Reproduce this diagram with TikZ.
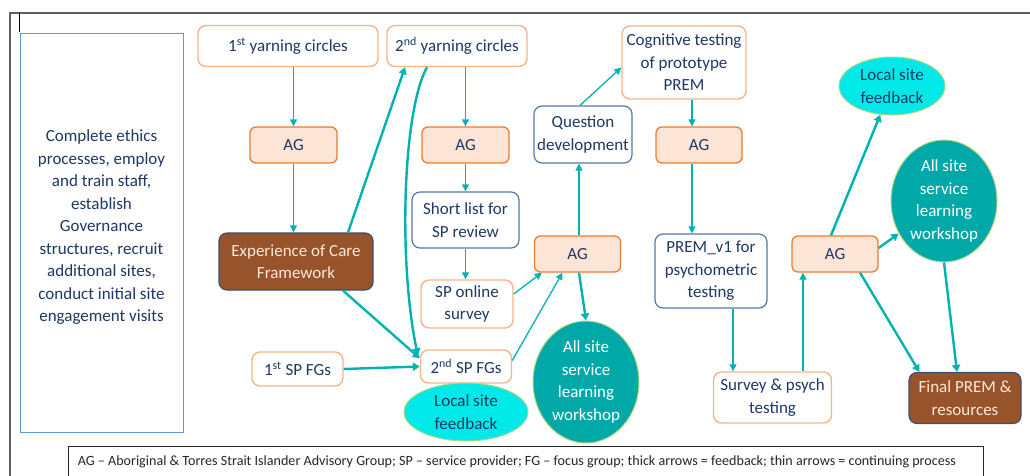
\documentclass[tikz,border=0pt]{standalone}
\usepackage{fontspec}
\setmainfont{Carlito}
\usepackage{xcolor}
\usetikzlibrary{arrows.meta, shapes.geometric, positioning}
\definecolor{navytext}{RGB}{31,56,100}
\definecolor{framegray}{RGB}{95,95,95}
\definecolor{ethicsblue}{RGB}{91,155,213}
\definecolor{orangeline}{RGB}{248,180,136}
\definecolor{agline}{RGB}{237,125,49}
\definecolor{agfill}{RGB}{252,228,214}
\definecolor{slateline}{RGB}{84,120,170}
\definecolor{brownfill}{RGB}{151,84,44}
\definecolor{brownline}{RGB}{60,78,105}
\definecolor{browntext}{RGB}{252,232,216}
\definecolor{cyanfill}{RGB}{0,233,233}
\definecolor{tealfill}{RGB}{0,168,168}
\definecolor{ovalline}{RGB}{175,218,130}
\definecolor{arrowteal}{RGB}{0,178,178}

\begin{document}
\begin{tikzpicture}[
    x=1pt, y=-1pt,
    every node/.style={font=\fontsize{17}{22.5}\selectfont, text=navytext, align=center, inner sep=0pt},
    ethicsbox/.style={rectangle, draw=ethicsblue, line width=1pt, fill=white},
    stagebox/.style={rectangle, draw=orangeline, line width=1.4pt, fill=white, rounded corners=8pt},
    agbox/.style={rectangle, draw=agline, line width=1.3pt, fill=agfill, rounded corners=6pt},
    slatebox/.style={rectangle, draw=slateline, line width=1.2pt, fill=white, rounded corners=8pt},
    brownbox/.style={rectangle, draw=brownline, line width=1.2pt, fill=brownfill, text=browntext, rounded corners=8pt},
    localoval/.style={ellipse, draw=ovalline, line width=1pt, fill=cyanfill},
    workoval/.style={ellipse, draw=ovalline, line width=1pt, fill=tealfill, text=white},
    thinarrow/.style={-{Triangle[width=7pt,length=7pt]}, draw=arrowteal, line width=1.3pt},
    thickarrow/.style={-{Triangle[width=8pt,length=7pt]}, draw=arrowteal, line width=2.4pt}
]
\useasboundingbox (0,0) rectangle (1030,475);
\clip (0,0) rectangle (1030,475);

% page frame
\draw[framegray, line width=1.6pt] (10,480) -- (10,13) -- (1035,13);
\draw[black, line width=0.8pt] (19,13) -- (19,32);

% set-up box
\node[ethicsbox, minimum width=163, minimum height=399] (ethics) at (101.5,232.5) {};
\node[yshift=5] (ethicstext) at (ethics.center) {Complete ethics\\processes, employ\\and train staff,\\establish\\Governance\\structures, recruit\\additional sites,\\conduct initial site\\engagement visits};

% yarning circles
\node[stagebox, minimum width=180, minimum height=41] (yarn1) at (288,46) {1\textsuperscript{st} yarning circles};
\node[stagebox, minimum width=140, minimum height=41] (yarn2) at (457,46) {2\textsuperscript{nd} yarning circles};

% advisory group meetings
\node[agbox, minimum width=87, minimum height=36] (ag1) at (293.5,145) {AG};
\node[agbox, minimum width=87, minimum height=36] (ag2) at (465.5,145) {AG};
\node[agbox, minimum width=86, minimum height=36] (ag3) at (577.5,254) {AG};
\node[agbox, minimum width=86, minimum height=36] (ag4) at (699,145) {AG};
\node[agbox, minimum width=86, minimum height=36] (ag5) at (835,254) {AG};

% framework and service provider steps
\node[brownbox, minimum width=154, minimum height=57] (exper) at (296,261.5) {Experience of Care\\Framework};
\node[slatebox, minimum width=107, minimum height=56] (shortlist) at (465.5,220) {Short list for\\SP review};
\node[stagebox, minimum width=92, minimum height=48] (online) at (467,304) {SP online\\survey};
\node[stagebox, minimum width=91, minimum height=34] (fg1) at (297.5,369) {1\textsuperscript{st} SP FGs};
\node[stagebox, minimum width=91, minimum height=33] (fg2) at (466,366.5) {2\textsuperscript{nd} SP FGs};
\node[localoval, minimum width=124, minimum height=58] (localA) at (466,412) {Local site\\feedback};

% PREM development
\node[slatebox, minimum width=98, minimum height=57] (question) at (583,134.5) {Question\\development};
\node[stagebox, minimum width=124, minimum height=73] (cognitive) at (684,62.5) {Cognitive testing\\of prototype\\PREM};
\node[workoval, minimum width=106, minimum height=122] (workA) at (586,382) {All site\\service\\learning\\workshop};
\node[slatebox, minimum width=112, minimum height=74] (premv1) at (711,271) {PREM\_v1 for\\psychometric\\testing};
\node[stagebox, minimum width=118, minimum height=51] (survey) at (772.5,397.5) {Survey \& psych\\testing};

% final round
\node[localoval, minimum width=106, minimum height=58] (localB) at (892,86) {Local site\\feedback};
\node[workoval, minimum width=106, minimum height=122] (workB) at (944,201) {All site\\service\\learning\\workshop};
\node[brownbox, minimum width=112, minimum height=51] (final) at (965,398) {Final PREM \&\\resources};

% legend
\node[draw=black!85, line width=0.9pt, fill=white, minimum width=915, minimum height=32] (legend) at (525.5,462) {};
\node[anchor=west, xshift=10, text=black!85, font=\fontsize{14.1}{16}\selectfont] (legendtext) at (legend.west) {AG -- Aboriginal \& Torres Strait Islander Advisory Group; SP -- service provider; FG -- focus group; thick arrows = feedback; thin arrows = continuing process};

% continuing process
\draw[thinarrow] (ag1.north |- yarn1.south) -- (ag1.north);
\draw[thinarrow] (ag1.south) -- (ag1.south |- exper.north);
\draw[thinarrow] (ag2.north |- yarn2.south) -- (ag2.north);
\draw[thinarrow] (ag2.south) -- (shortlist.north);
\draw[thinarrow] (shortlist.south) -- (shortlist.south |- online.north);
\draw[thinarrow] ([yshift=10]online.east) -- ([xshift=8]ag3.south west);
\draw[thinarrow] ([yshift=6]fg2.east) -- ([xshift=-15]ag3.south);
\draw[thinarrow] ([xshift=1.5]ag3.north) -- ([xshift=1.5]ag3.north |- question.south);
\draw[thinarrow] ([xshift=-3]question.north) -- ([yshift=-5]cognitive.west);
\draw[thinarrow] ([xshift=-7]ag4.north |- cognitive.south) -- ([xshift=-7]ag4.north);
\draw[thinarrow] ([xshift=-7]ag4.south) -- ([xshift=-7]ag4.south |- premv1.north);
\draw[thinarrow] ([xshift=22]premv1.south) -- ([xshift=22]premv1.south |- survey.north);
\draw[thinarrow] ([xshift=30.5]survey.north) -- ([xshift=30.5]survey.north |- ag5.south);

% feedback
\draw[thickarrow] ([xshift=52]exper.north) -- ([xshift=-52]yarn2.south);
\draw[thickarrow] ([xshift=-30]yarn2.south) .. controls (403,110) and (398,260) .. ([xshift=-2,yshift=-6]fg2.north west);
\draw[thickarrow] ([xshift=47]exper.south) -- ([yshift=-9]fg2.north west);
\draw[thickarrow] (fg1.east) -- (fg2.west);
\draw[thickarrow] ([xshift=1.5]ag3.south) -- (workA.north);
\draw[thickarrow] ([xshift=-4]ag5.north) -- (localB);
\draw[thickarrow] ([yshift=6]ag5.east) -- (workB);
\draw[thickarrow] ([xshift=25]ag5.south) -- ([xshift=11]final.north west);
\draw[thickarrow] (workB.south) -- ([xshift=-8]final.north);

\end{tikzpicture}
\end{document}
